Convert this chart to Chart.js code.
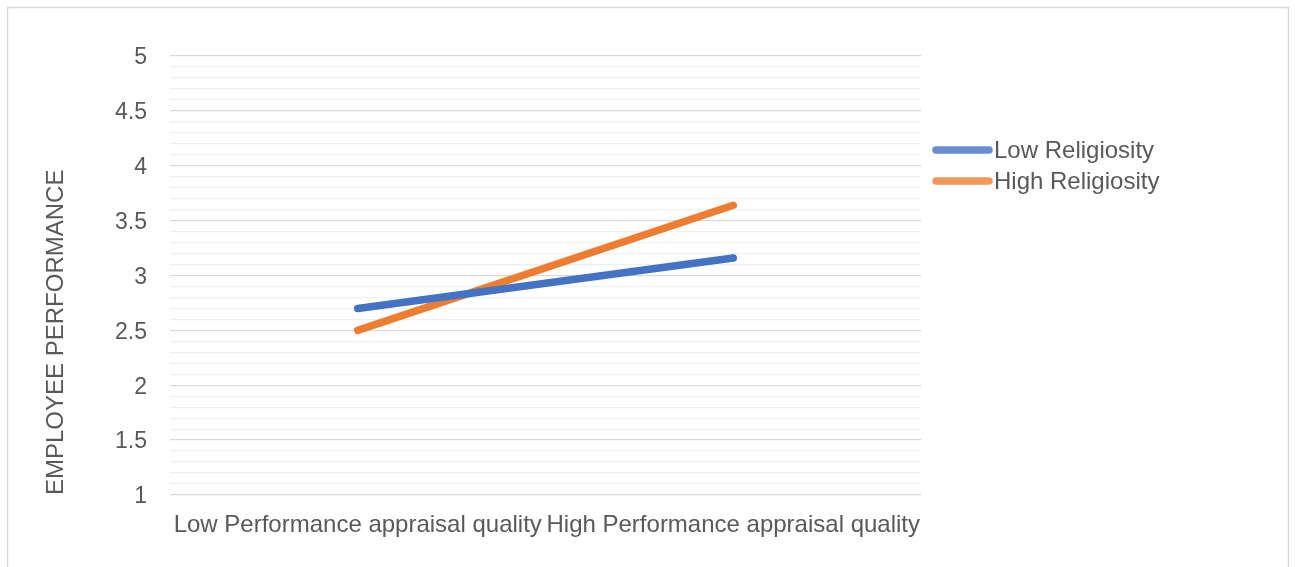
<!DOCTYPE html>
<html>
<head>
<meta charset="utf-8">
<script src="https://cdn.jsdelivr.net/npm/chart.js@4/dist/chart.umd.min.js"></script>
<style>
  html, body { margin: 0; padding: 0; background: #ffffff; }
  #wrap { width: 1295px; height: 567px; position: relative; }
</style>
</head>
<body>
<div id="wrap"><canvas id="c" width="1295" height="567"></canvas></div>
<script>
// Categories on the x axis
const categories = ['Low Performance appraisal quality', 'High Performance appraisal quality'];

// Series
const seriesNames = ['Low Religiosity', 'High Religiosity'];
const lowReligiosity = [2.70, 3.16];
const highReligiosity = [2.50, 3.64];
const seriesColors = ['#4472C4', '#ED7D31'];

// Value axis
const yMin = 1;
const yMax = 5;
const yStep = 0.1;
const yLabelEvery = 0.5;
const yTitle = 'EMPLOYEE PERFORMANCE';

const FONT = "'Liberation Sans', Arial, sans-serif";
const TEXT = '#595959';

// Outer frame around the whole chart
const framePlugin = {
  id: 'frame',
  beforeDraw(chart) {
    const ctx = chart.ctx;
    ctx.save();
    ctx.fillStyle = '#ffffff';
    ctx.fillRect(0, 0, chart.width, chart.height);
    ctx.strokeStyle = '#d9d9d9';
    ctx.lineWidth = 1.5;
    ctx.strokeRect(7.5, 7.5, chart.width - 14, chart.height + 20);
    ctx.restore();
  }
};

// Legend on the right: short thick line sample followed by the series name
const sideLegend = {
  id: 'sideLegend',
  afterDraw(chart, args, opts) {
    const ctx = chart.ctx;
    ctx.save();
    ctx.font = opts.font;
    ctx.textBaseline = 'middle';
    ctx.textAlign = 'left';
    chart.data.datasets.forEach((ds, i) => {
      const y = opts.y + i * opts.rowGap;
      ctx.globalAlpha = 0.8;
      ctx.strokeStyle = ds.borderColor;
      ctx.lineWidth = opts.lineWidth;
      ctx.lineCap = 'round';
      ctx.beginPath();
      ctx.moveTo(opts.x, y);
      ctx.lineTo(opts.x + opts.lineLen, y);
      ctx.stroke();
      ctx.globalAlpha = 1;
      ctx.fillStyle = TEXT;
      ctx.fillText(ds.label, opts.x + opts.lineLen + opts.gap, y + 1);
    });
    ctx.restore();
  }
};

const isLabelled = v => Math.abs(Math.round(v / yStep) % Math.round(yLabelEvery / yStep)) === 0;

new Chart(document.getElementById('c'), {
  type: 'line',
  data: {
    labels: categories,
    datasets: [
      {
        label: seriesNames[0],
        data: lowReligiosity,
        borderColor: seriesColors[0],
        backgroundColor: seriesColors[0],
        borderWidth: 7.5,
        borderCapStyle: 'round',
        pointRadius: 0,
        fill: false,
        tension: 0
      },
      {
        label: seriesNames[1],
        data: highReligiosity,
        borderColor: seriesColors[1],
        backgroundColor: seriesColors[1],
        borderWidth: 7.5,
        borderCapStyle: 'round',
        pointRadius: 0,
        fill: false,
        tension: 0
      }
    ]
  },
  options: {
    responsive: false,
    animation: false,
    devicePixelRatio: 1,
    layout: { padding: { left: 0, top: 56, right: 374, bottom: 0 } },
    plugins: {
      legend: { display: false },
      tooltip: { enabled: false },
      sideLegend: {
        x: 936, y: 150, rowGap: 31, lineLen: 53, gap: 5, lineWidth: 7.5,
        font: "24px " + FONT
      }
    },
    scales: {
      x: {
        type: 'category',
        offset: true,
        grid: { display: false, drawTicks: false },
        border: { display: false },
        ticks: {
          color: TEXT,
          font: { family: FONT, size: 24 },
          padding: 16,
          maxRotation: 0,
          autoSkip: false
        },
        afterFit(scale) { scale.height = 72; }
      },
      y: {
        type: 'linear',
        min: yMin,
        max: yMax,
        border: { display: false },
        grid: {
          drawTicks: false,
          lineWidth: 1.3,
          color: ctx => isLabelled(ctx.tick.value) ? '#d9d9d9' : '#f0f0f0'
        },
        ticks: {
          stepSize: yStep,
          autoSkip: false,
          color: TEXT,
          font: { family: FONT, size: 23 },
          padding: 23,
          labelOffset: 2,
          callback: v => isLabelled(v) ? String(Math.round(v * 10) / 10) : ''
        },
        title: {
          display: true,
          text: yTitle,
          align: 'start',
          color: TEXT,
          font: { family: FONT, size: 24 },
          padding: { top: 42, bottom: 0 }
        },
        afterFit(scale) { scale.width = 170; }
      }
    }
  },
  plugins: [framePlugin, sideLegend]
});
</script>
</body>
</html>
